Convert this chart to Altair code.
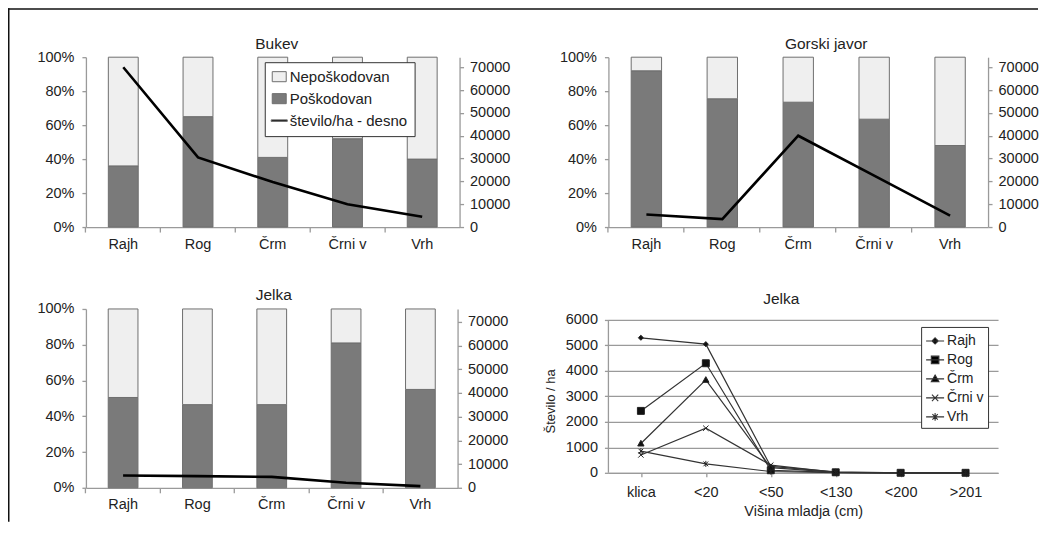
import altair as alt
import pandas as pd

# ---------------- data ----------------
sites = ["Rajh", "Rog", "Črm", "Črni v", "Vrh"]
series_names = ["Nepoškodovan", "Poškodovan", "število/ha - desno"]

bukev_damaged = [36, 65, 41, 52, 40]          # % Poškodovan
javor_damaged = [92, 75.5, 73.5, 63.5, 48]
jelka_damaged = [50.5, 46.5, 46.5, 81, 55]

bukev_per_ha = [70000, 30500, 19700, 10000, 4500]
javor_per_ha = [5500, 3500, 40000, 22500, 5000]
jelka_per_ha = [5200, 4900, 4600, 2100, 700]

heights = ["klica", "<20", "<50", "<130", "<200", ">201"]
h_series = ["Rajh", "Rog", "Črm", "Črni v", "Vrh"]
rajh_h = [5300, 5050, 250, 40, 0, 0]
rog_h = [2430, 4300, 100, 20, 0, 0]
crm_h = [1150, 3650, 200, 20, 0, 0]
crniv_h = [700, 1750, 300, 20, 0, 0]
vrh_h = [850, 350, 50, 10, 0, 0]

pct_ticks = [0, 0.2, 0.4, 0.6, 0.8, 1.0]
n_ticks = [0, 10000, 20000, 30000, 40000, 50000, 60000, 70000]
h_ticks = [0, 1000, 2000, 3000, 4000, 5000, 6000]

# ---------------- style ----------------
FONT = "Liberation Sans"
LIGHT = "#efefef"
DARK = "#7a7a7a"
BAR_STROKE = "#6e6e6e"
AXIS_GRAY = "#9a9a9a"
TXT = "#222222"

RECT = "M-1,-0.72H1V0.72H-1Z"
LINE_SYM = "M-1.15,-0.11H1.15V0.11H-1.15Z"

marker_paths = [
    "M0,-0.8L0.8,0L0,0.8L-0.8,0Z",
    "M-1.1,-1.1H1.1V1.1H-1.1Z",
    "M0,-1L1,0.8H-1Z",
    "M-0.85,-0.85L0.85,0.85M-0.85,0.85L0.85,-0.85",
    "M-0.75,-0.75L0.75,0.75M-0.75,0.75L0.75,-0.75M0,-0.95V0.95",
]
legend_paths = [
    "M-1,0H1M0,-0.35L0.35,0L0,0.35L-0.35,0Z",
    "M-1,0H1M-0.42,-0.42H0.42V0.42H-0.42Z",
    "M-1,0H1M0,-0.42L0.42,0.3H-0.42Z",
    "M-1,0H1M-0.35,-0.35L0.35,0.35M-0.35,0.35L0.35,-0.35",
    "M-1,0H1M-0.3,-0.3L0.3,0.3M-0.3,0.3L0.3,-0.3M0,-0.42V0.42",
]


def spacer_base():
    return alt.Chart(pd.DataFrame({"a": [0]})).mark_point(opacity=0).encode(
        x=alt.X("a:Q", axis=None), y=alt.Y("a:Q", axis=None)
    )


def spacer(w, h):
    return spacer_base().properties(width=w, height=h)


def bar_panel(title, damaged, per_ha, width, height, ymax2, title_dx, title_offset,
              with_legend=False):
    rows = []
    for s, d in zip(sites, damaged):
        rows.append({"site": s, "status": "Poškodovan", "pct": d / 100, "fill": DARK, "ord": 0})
        rows.append({"site": s, "status": "Nepoškodovan", "pct": 1 - d / 100, "fill": LIGHT, "ord": 1})
    bars_df = pd.DataFrame(rows)

    x_enc = alt.X(
        "site:N", sort=sites,
        scale=alt.Scale(paddingInner=0.6, paddingOuter=0.3),
        axis=alt.Axis(title=None, labelAngle=0, bandPosition=-0.75, tickSize=5,
                      labelPadding=5),
    )
    y_axis = alt.Axis(orient="left", values=pct_ticks, format=".0%", title=None,
                      tickSize=4, labelPadding=8, labelOverlap=False)
    bars = alt.Chart(bars_df).mark_bar(stroke=BAR_STROKE, strokeWidth=1).encode(
        x=x_enc,
        y=alt.Y("pct:Q", stack="zero", scale=alt.Scale(domain=[0, 1], nice=False), axis=y_axis),
        color=alt.Color("fill:N", scale=None),
        order=alt.Order("ord:Q"),
    )
    inner = [bars]

    if with_legend:
        leg_df = pd.DataFrame({"series": series_names, "site": ["Rajh"] * 3, "pct": [0, 0, 0]})
        leg_props = dict(
            orient="none", legendX=179, legendY=5, title=None,
            fillColor="white", strokeColor="#333", padding=7, rowPadding=6,
            symbolSize=196, labelFontSize=15, labelOffset=3, labelColor=TXT,
            labelFont=FONT, symbolStrokeWidth=1,
        )
        leg = alt.Chart(leg_df).mark_point(filled=True, opacity=0, stroke="#666",
                                           strokeWidth=1).encode(
            x=x_enc,
            y=alt.Y("pct:Q", scale=alt.Scale(domain=[0, 1], nice=False), axis=y_axis),
            color=alt.Color("series:N",
                            scale=alt.Scale(domain=series_names, range=[LIGHT, DARK, "#000"]),
                            legend=alt.Legend(**leg_props)),
            shape=alt.Shape("series:N",
                            scale=alt.Scale(domain=series_names, range=[RECT, RECT, LINE_SYM]),
                            legend=alt.Legend(**leg_props)),
        )
        inner.append(leg)

    line_df = pd.DataFrame({"site": sites, "n": per_ha})
    line = alt.Chart(line_df).mark_line(color="#000", strokeWidth=2.6).encode(
        x=x_enc,
        y=alt.Y("n:Q", scale=alt.Scale(domain=[0, ymax2], nice=False),
                axis=alt.Axis(orient="right", values=n_ticks, format="d", title=None,
                              tickSize=4, labelPadding=6, labelOverlap=False)),
    )

    return alt.layer(alt.layer(*inner), line).resolve_scale(y="independent").properties(
        width=width, height=height,
        title=alt.TitleParams(title, dx=title_dx, offset=title_offset, anchor="middle"),
    )


# ---------------- bottom-right line chart ----------------
rows = []
for name, vals in zip(h_series, [rajh_h, rog_h, crm_h, crniv_h, vrh_h]):
    for h, v in zip(heights, vals):
        rows.append({"series": name, "height": h, "value": v})
h_df = pd.DataFrame(rows)

BR_H = 164           # plot area height; 6000 sits 11 px below its top
BR_TOP = 6000 * BR_H / 153

bx = alt.X("height:N", sort=heights,
           scale=alt.Scale(paddingInner=0, paddingOuter=0),
           axis=alt.Axis(title="Višina mladja (cm)", labelAngle=0, bandPosition=0,
                         tickSize=4, labelPadding=9, titlePadding=5))
by_axis = alt.Axis(title="Število / ha", values=h_ticks, format="d", grid=True,
                   gridColor=AXIS_GRAY, gridWidth=1.3, tickSize=4, labelPadding=7,
                   titlePadding=8, domain=False, labelOverlap=False,
                   titleFontSize=13, titleY=92)
by = alt.Y("value:Q", scale=alt.Scale(domain=[0, BR_TOP], nice=False), axis=by_axis)

h_lines = alt.Chart(h_df).mark_line(color="#333", strokeWidth=1.2).encode(
    x=bx, y=by, detail="series:N")
h_points = alt.Chart(h_df).mark_point(filled=True, color="#111", stroke="#222",
                                      strokeWidth=1, opacity=1, size=40).encode(
    x=bx, y=by,
    shape=alt.Shape("series:N", scale=alt.Scale(domain=h_series, range=marker_paths),
                    legend=None),
)
# vertical axis line from 0 to the top tick value
axisline_df = pd.DataFrame({"value": [h_ticks[0]], "value2": [h_ticks[-1]]})
h_axisline = alt.Chart(axisline_df).mark_rule(color=AXIS_GRAY, strokeWidth=1.3).encode(
    x=alt.value(0), y=by, y2=alt.Y2("value2:Q"))
hleg_df = pd.DataFrame({"series": h_series, "height": ["klica"] * 5, "value": [0] * 5})
h_leg = alt.Chart(hleg_df).mark_point(filled=True, opacity=0, color="#000", stroke="#333",
                                      strokeWidth=1).encode(
    x=bx, y=by,
    shape=alt.Shape("series:N", scale=alt.Scale(domain=h_series, range=legend_paths),
                    legend=alt.Legend(orient="none", legendX=313, legendY=18, title=None,
                                      fillColor="white", strokeColor="#333", padding=4,
                                      rowPadding=2, symbolSize=324, labelFontSize=14,
                                      labelOffset=2, labelColor=TXT, labelFont=FONT,
                                      symbolStrokeWidth=1.1)),
)
br = alt.layer(h_lines, h_points, h_axisline, h_leg).resolve_scale(
    shape="independent").properties(
    width=390, height=BR_H,
    title=alt.TitleParams("Jelka", dx=-22, offset=1, anchor="middle"),
)

# ---------------- panels ----------------
tl = bar_panel("Bukev", bukev_damaged, bukev_per_ha, 374, 170, 74400, 4, -3,
               with_legend=True)
tr = bar_panel("Gorski javor", javor_damaged, javor_per_ha, 380, 170, 74400, 28, -3)
bl = bar_panel("Jelka", jelka_damaged, jelka_per_ha, 372, 179, 75400, 2, -3)

# outer frame (top and left border of the figure), drawn from the spacer between top panels
fdf = pd.DataFrame({"k": [0]})
frame_top = alt.Chart(fdf).mark_rect(color="#111").encode(
    x=alt.value(-452), x2=alt.value(579), y=alt.value(-49), y2=alt.value(-47.5))
frame_left = alt.Chart(fdf).mark_rect(color="#111").encode(
    x=alt.value(-452), x2=alt.value(-450.5), y=alt.value(-49), y2=alt.value(465))
frame_spacer = alt.layer(spacer_base(), frame_top, frame_left).properties(width=132, height=170)

items = [
    tl, frame_spacer, tr,
    spacer(10, 82), spacer(10, 82), spacer(10, 82),
    bl, spacer(149, 10), br,
]

chart = alt.concat(*items, columns=3, spacing=0, bounds="flush", align="none").properties(
    padding=0
).configure_view(stroke=None).configure_axis(
    labelFont=FONT, labelFontSize=14.5, labelColor=TXT,
    titleFont=FONT, titleFontSize=14.5, titleColor=TXT, titleFontWeight="normal",
    domainColor=AXIS_GRAY, domainWidth=1.3, tickColor=AXIS_GRAY, tickWidth=1.3,
    grid=False, labelOverlap=False,
).configure_title(
    font=FONT, fontSize=15.5, fontWeight="normal", color=TXT
)

chart.save("out.html", embed_options={"renderer": "svg", "actions": False})
